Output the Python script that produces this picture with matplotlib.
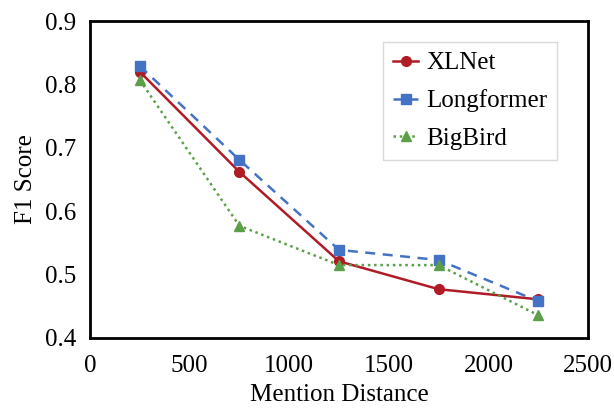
import matplotlib
matplotlib.use('Agg')
import matplotlib.pyplot as plt

plt.rcParams['font.family'] = ['Liberation Serif', 'DejaVu Serif']

distance = [250, 750, 1250, 1750, 2250]
xlnet = [0.820, 0.662, 0.521, 0.477, 0.461]
longformer = [0.829, 0.681, 0.539, 0.523, 0.458]
bigbird = [0.807, 0.577, 0.515, 0.515, 0.436]

fig = plt.figure(figsize=(6.14, 4.09), dpi=100)
ax = fig.add_axes([0.1466, 0.1736, 0.811, 0.775])

ax.plot(distance, xlnet, color='#B01C26', linestyle='-', linewidth=1.8,
        marker='o', markersize=7, label='XLNet')
ax.plot(distance, longformer, color='#4472C4', linestyle=(0, (4, 3)), linewidth=1.8,
        marker='s', markersize=7, label='Longformer')
ax.plot(distance, bigbird, color='#5B9F48', linestyle=(0, (1, 1.5)), linewidth=1.8,
        marker='^', markersize=7, label='BigBird')

ax.set_xlim(0, 2500)
ax.set_ylim(0.4, 0.9)
ax.set_xticks([0, 500, 1000, 1500, 2000, 2500])
ax.set_yticks([0.4, 0.5, 0.6, 0.7, 0.8, 0.9])
ax.tick_params(axis='x', length=0, labelsize=18, pad=12)
ax.tick_params(axis='y', length=0, labelsize=18, pad=10)
for s in ax.spines.values():
    s.set_linewidth(2)
    s.set_color('black')

ax.set_xlabel('Mention Distance', fontsize=18, labelpad=5)
ax.set_ylabel('F1 Score', fontsize=18, labelpad=6)

leg = ax.legend(loc='upper right', bbox_to_anchor=(0.938, 0.934), borderaxespad=0,
                fontsize=18, handlelength=1.0, handletextpad=0.3, labelspacing=0.6,
                borderpad=0.4, fancybox=False, framealpha=1)
leg.get_frame().set_edgecolor('#D9D9D9')
leg.get_frame().set_linewidth(1)

fig.savefig('out.png', dpi=100)
